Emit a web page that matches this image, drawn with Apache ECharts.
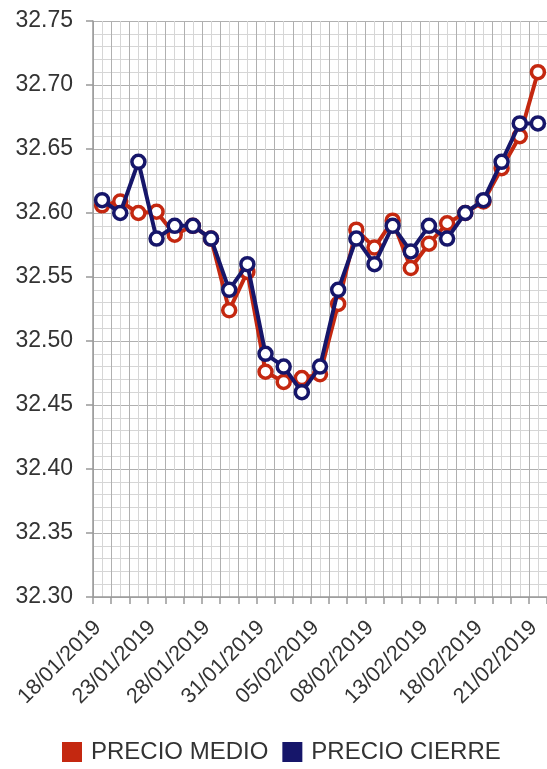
<!DOCTYPE html>
<html>
<head>
<meta charset="utf-8">
<script src="https://cdn.jsdelivr.net/npm/echarts@6/dist/echarts.min.js"></script>
<style>
html,body{margin:0;padding:0;background:#fff;}
#chart{width:547px;height:769px;}
</style>
</head>
<body>
<div id="chart"></div>
<script>
const dates = ['18/01/2019','21/01/2019','22/01/2019','23/01/2019','24/01/2019','25/01/2019','28/01/2019','29/01/2019','30/01/2019','31/01/2019','01/02/2019','04/02/2019','05/02/2019','06/02/2019','07/02/2019','08/02/2019','11/02/2019','12/02/2019','13/02/2019','14/02/2019','15/02/2019','18/02/2019','19/02/2019','20/02/2019','21/02/2019'];
const precioMedio = [32.606, 32.609, 32.600, 32.601, 32.583, 32.590, 32.580, 32.524, 32.554, 32.476, 32.468, 32.471, 32.474, 32.529, 32.587, 32.573, 32.594, 32.557, 32.576, 32.592, 32.600, 32.609, 32.635, 32.660, 32.710];
const precioCierre = [32.61, 32.60, 32.64, 32.58, 32.59, 32.59, 32.58, 32.54, 32.56, 32.49, 32.48, 32.46, 32.48, 32.54, 32.58, 32.56, 32.59, 32.57, 32.59, 32.58, 32.60, 32.61, 32.64, 32.67, 32.67];
const seriesNames = ['PRECIO MEDIO', 'PRECIO CIERRE'];
const seriesColors = ['#c42810', '#16166a'];

const FONT = "'Liberation Sans', Arial, sans-serif";
const chart = echarts.init(document.getElementById('chart'), null, {renderer: 'canvas'});
const n = dates.length;
chart.setOption({
  animation: false,
  backgroundColor: '#fff',
  textStyle: {fontFamily: FONT},
  grid: {left: 93, top: 21, right: -6.5, bottom: 172, containLabel: false},
  legend: {
    data: seriesNames.map((name, i) => ({name, icon: 'rect', itemStyle: {color: seriesColors[i], borderWidth: 0}})),
    left: 57,
    top: 735,
    itemWidth: 20,
    itemHeight: 20,
    itemGap: 14,
    textStyle: {fontFamily: FONT, fontSize: 24, color: '#333', padding: [0,0,0,4]}
  },
  xAxis: [{
    type: 'category',
    data: dates,
    boundaryGap: true,
    axisLine: {show: true, lineStyle: {color: '#999', width: 1.5}},
    axisTick: {show: true, interval: 0, length: 7, lineStyle: {color: '#999', width: 1.5}},
    axisLabel: {interval: 2, rotate: 45, margin: 23, padding: [0, 6, 0, 0], fontFamily: FONT, fontSize: 21.5, color: '#333'},
    splitLine: {show: false}
  }, {
    type: 'value',
    min: 0,
    max: 2 * n,
    interval: 1,
    position: 'bottom',
    axisLine: {show: false},
    axisTick: {show: false},
    axisLabel: {show: false},
    splitLine: {show: true, lineStyle: {color: ['#b0b0b0', '#d6d6d6'], width: 1}}
  }],
  yAxis: {
    type: 'value',
    min: 32.30,
    max: 32.75,
    interval: 0.05,
    axisLine: {show: true, lineStyle: {color: '#999', width: 1.5}},
    axisTick: {show: true, length: 7, lineStyle: {color: '#999', width: 1.5}},
    axisLabel: {margin: 20, fontFamily: FONT, fontSize: 23, color: '#333', formatter: v => v.toFixed(2)},
    splitLine: {show: true, lineStyle: {color: '#b0b0b0', width: 1}},
    minorTick: {show: false, splitNumber: 5},
    minorSplitLine: {show: true, lineStyle: {color: '#d6d6d6', width: 1}}
  },
  series: [{
    name: seriesNames[0],
    type: 'line',
    data: precioMedio,
    symbol: 'circle',
    symbolSize: 13,
    showAllSymbol: true,
    color: seriesColors[0],
    lineStyle: {color: seriesColors[0], width: 4},
    itemStyle: {color: '#fff', borderColor: seriesColors[0], borderWidth: 3.5},
    z: 3
  }, {
    name: seriesNames[1],
    type: 'line',
    data: precioCierre,
    symbol: 'circle',
    symbolSize: 13,
    showAllSymbol: true,
    color: seriesColors[1],
    lineStyle: {color: seriesColors[1], width: 4},
    itemStyle: {color: '#fff', borderColor: seriesColors[1], borderWidth: 3.5},
    z: 4
  }]
});
</script>
</body>
</html>
